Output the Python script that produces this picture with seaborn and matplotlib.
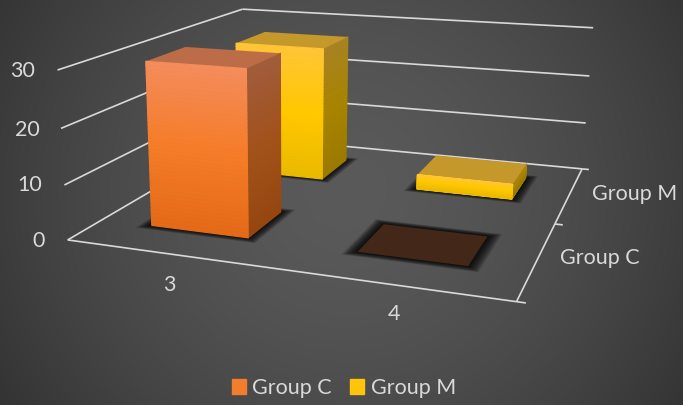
import numpy as np
import pandas as pd
import matplotlib
matplotlib.use("Agg")
import matplotlib.pyplot as plt
from matplotlib.patches import Patch
from mpl_toolkits.mplot3d.art3d import Poly3DCollection, Line3DCollection
import seaborn as sns

# ---- data ----
categories = [3, 4]
groups = ["Group C", "Group M"]
group_c_values = [30, 0]
group_m_values = [27, 3]
value_ticks = [0, 10, 20, 30]

W, H = 683, 405
sns.set_theme(style="dark", rc={"axes.facecolor": "none", "figure.facecolor": "#4a4a4a"})
plt.rcParams["font.family"] = ["Lato", "DejaVu Sans"]
TEXT = "#d9d9d9"
palette = sns.color_palette(["#f27d2d", "#ffc50a"])
front_stops = {
    "Group C": [(228, 106, 24), (245, 124, 40), (244, 140, 92)],
    "Group M": [(235, 185, 0), (255, 200, 0), (255, 197, 55)],
}

df = pd.DataFrame({"category": categories * 2,
                   "group": [groups[0]] * 2 + [groups[1]] * 2,
                   "value": group_c_values + group_m_values})

# ---- camera: perspective fitted to the axes box (world x,y in 0..1, z in value units) ----
world = [(0,0,0),(0,0,10),(0,0,20),(0,0,30),(0,1,0),(0,1,30),
         (1,1,0),(1,1,10),(1,1,20),(1,1,30),(1,0,0),(1,.5,0)]
image = [(68,240),(64,185),(61,128),(57,70),(244,136),(243,10),
         (582,167),(587,122),(589,75),(593,28),(519,297),(552,232)]
A = []
for (x, y, z), (u, v) in zip(world, image):
    A.append([x, y, z, 1, 0, 0, 0, 0, -u*x, -u*y, -u*z, -u])
    A.append([0, 0, 0, 0, x, y, z, 1, -v*x, -v*y, -v*z, -v])
P = np.linalg.svd(np.array(A, float))[2][-1].reshape(3, 4)
P = P / P[2, 3]
M = np.array([P[0], P[1], P[2] + np.array([0, 0, 0, 0.5]), P[2]])

fig = plt.figure(figsize=(W/100, H/100), dpi=100)
yy, xx = np.mgrid[0:H, 0:W]
r = np.hypot((xx-345)/430, (yy-190)/420)
bg = 90 - 42*np.clip(r, 0, 1)**1.6
fig.figimage(np.dstack([bg, bg, bg]).astype(np.uint8), 0, 0, origin="upper", zorder=-5)

ax = fig.add_axes([0, 0, 1, 1], projection="3d", computed_zorder=False)
ax.set_axis_off()
ax.patch.set_alpha(0)
ax.get_proj = lambda: M
ax.apply_aspect = lambda position=None: None
ax.viewLim.intervalx = (0, W)
ax.viewLim.intervaly = (H, 0)

# ---- axes box ----
segments = []
for t in value_ticks:
    segments.append([(0, 0, t), (0, 1, t)])
    segments.append([(0, 1, t), (1, 1, t)])
segments.append([(0, 0, 0), (1, 0, 0)])
segments.append([(1, 0, 0), (1, 1, 0)])
for yt in [0, .5, 1]:
    segments.append([(1, yt, 0), (1.018, yt, 0)])
ax.add_collection3d(Line3DCollection(segments, colors=TEXT, linewidths=1.2, zorder=1))

# ---- bars ----
cell_x = 1 / len(categories)
cell_y = 1 / len(groups)
frac_x, frac_y = 0.485, 0.40
depth_shift = 0.007
N = 40

def shade(stops, frac, k=1.0):
    ramp = np.array(stops, float) / 255
    return np.array([np.interp(frac, [0, .5, 1], ramp[:, i]) for i in range(3)]) * k

def gradient_face(x, y, zt, stops, k, zo):
    fr = np.linspace(0, 1, N + 1)
    Z = np.outer(fr, [zt, zt])
    X = np.tile(x, (N + 1, 1)); Y = np.tile(y, (N + 1, 1))
    cols = np.array([[np.r_[shade(stops, (i + .5) / N, k), 1]] for i in range(N)])
    ax.plot_surface(X, Y, Z, facecolors=cols, rstride=1, cstride=1, shade=False,
                    linewidth=.9, antialiased=True, zorder=zo)

def rect(x0, x1, y0, y1, z):
    return [[(x0, y0, z), (x1, y0, z), (x1, y1, z), (x0, y1, z)]]

for gi, group in enumerate(groups):
    sub = df[df.group == group]
    y0 = (gi + .5 - frac_y/2) * cell_y + depth_shift
    y1 = (gi + .5 + frac_y/2) * cell_y + depth_shift
    zo = 5 - gi
    for ci, val in enumerate(sub.value):
        x0 = (ci + .5 - frac_x/2) * cell_x
        x1 = (ci + .5 + frac_x/2) * cell_x
        for e in np.linspace(.028, .002, 16):
            ax.add_collection3d(Poly3DCollection(rect(x0-e, x1+e, y0-e, y1+e, 0),
                                facecolor=(0, 0, 0, .085), edgecolor="none", zorder=2))
        stops = front_stops[group]
        if val > 0:
            gradient_face([x1, x1], [y0, y1], val, stops, .66, zo)
            gradient_face([x0, x1], [y0, y0], val, stops, 1, zo + .2)
            top = shade(stops, 1, .77)
        else:
            top = (67/255, 39/255, 24/255)
        ax.add_collection3d(Poly3DCollection(rect(x0, x1, y0, y1, val), facecolor=top,
                            edgecolor="none", zorder=zo + .1))

# ---- labels ----
FS = 15.5
def label(px, py, s, **kw):
    fig.text(px / W, 1 - py / H, s, color=TEXT, fontsize=FS, ha="center", va="center", **kw)
for t, (px, py) in zip(value_ticks, [(39, 241), (30, 185), (27, 130), (23, 71)]):
    label(px, py, str(t))
for c, (px, py) in zip(categories, [(169, 285), (394, 314)]):
    label(px, py, str(c))
for g, (px, py) in zip(groups, [(600, 258), (635, 194)]):
    label(px, py, g)

fig.legend(handles=[Patch(color=palette[0], label=groups[0]), Patch(color=palette[1], label=groups[1])],
           loc="center", bbox_to_anchor=(344/W, 1 - 388/H), ncol=2, frameon=False, fontsize=FS,
           labelcolor=TEXT, handlelength=.65, handleheight=.65, handletextpad=.3, columnspacing=.85)
fig.savefig("out.png", dpi=100)
